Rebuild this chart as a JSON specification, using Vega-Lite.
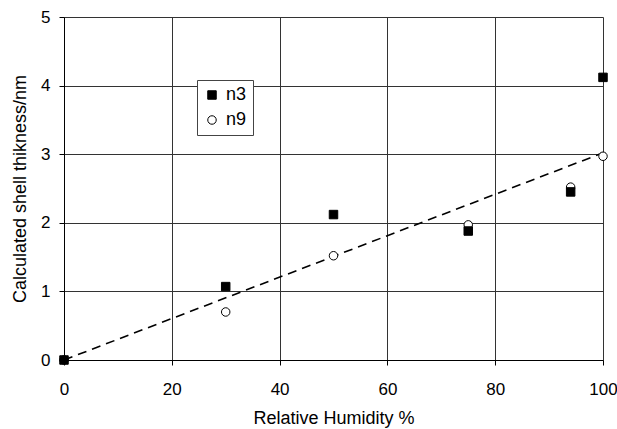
{
  "$schema": "https://vega.github.io/schema/vega-lite/v6.json",
  "width": 539,
  "height": 343,
  "autosize": "none",
  "padding": {"left": 64, "top": 17, "right": 14, "bottom": 69},
  "background": "white",
  "config": {
    "view": {"stroke": null},
    "font": "Liberation Sans",
    "axis": {
      "labelFont": "Liberation Sans",
      "titleFont": "Liberation Sans",
      "labelFontSize": 17,
      "titleFontSize": 18,
      "titleFontWeight": "normal",
      "labelColor": "black",
      "titleColor": "black",
      "gridColor": "#333",
      "gridOpacity": 1,
      "gridWidth": 1,
      "domainColor": "black",
      "tickColor": "black",
      "tickSize": 5,
      "labelFlush": false,
      "labelOverlap": false
    },
    "legend": {
      "labelFont": "Liberation Sans",
      "labelFontSize": 18,
      "labelColor": "black"
    }
  },
  "datasets": {
    "pts": [
      {"rh": 0, "t": 0, "series": "n9"},
      {"rh": 30, "t": 0.7, "series": "n9"},
      {"rh": 50, "t": 1.52, "series": "n9"},
      {"rh": 75, "t": 1.97, "series": "n9"},
      {"rh": 94, "t": 2.52, "series": "n9"},
      {"rh": 100, "t": 2.97, "series": "n9"},
      {"rh": 0, "t": 0, "series": "n3"},
      {"rh": 30, "t": 1.07, "series": "n3"},
      {"rh": 50, "t": 2.12, "series": "n3"},
      {"rh": 75, "t": 1.88, "series": "n3"},
      {"rh": 94, "t": 2.45, "series": "n3"},
      {"rh": 100, "t": 4.12, "series": "n3"}
    ],
    "fit": [
      {"rh": 0, "t": 0},
      {"rh": 100, "t": 3.02}
    ]
  },
  "layer": [
    {
      "data": {"name": "fit"},
      "mark": {"type": "line", "color": "black", "strokeWidth": 1.6, "strokeDash": [9, 6]},
      "encoding": {
        "x": {
          "field": "rh", "type": "quantitative",
          "scale": {"domain": [0, 100], "nice": false},
          "axis": {"title": "Relative Humidity %", "values": [0, 20, 40, 60, 80, 100], "format": "d", "labelPadding": 16, "titlePadding": 12, "grid": true}
        },
        "y": {
          "field": "t", "type": "quantitative",
          "scale": {"domain": [0, 5], "nice": false},
          "axis": {"title": "Calculated shell thikness/nm", "values": [0, 1, 2, 3, 4, 5], "format": "d", "labelPadding": 9, "titlePadding": 11, "grid": true}
        }
      }
    },
    {
      "data": {"name": "pts"},
      "mark": {"type": "point", "filled": false, "strokeWidth": 1, "opacity": 1},
      "encoding": {
        "x": {"field": "rh", "type": "quantitative"},
        "y": {"field": "t", "type": "quantitative"},
        "shape": {
          "field": "series", "type": "nominal",
          "scale": {"domain": ["n3", "n9"], "range": ["square", "circle"]},
          "legend": {
            "title": null,
            "orient": "none",
            "legendX": 133,
            "legendY": 63,
            "symbolSize": 72,
            "symbolStrokeWidth": 1,
            "strokeColor": "#444",
            "fillColor": "white",
            "padding": 6,
            "rowPadding": 7,
            "labelOffset": 5
          }
        },
        "fill": {
          "field": "series", "type": "nominal",
          "scale": {"domain": ["n3", "n9"], "range": ["black", "white"]},
          "legend": {
            "title": null,
            "orient": "none",
            "legendX": 133,
            "legendY": 63,
            "symbolSize": 72,
            "symbolStrokeWidth": 1,
            "strokeColor": "#444",
            "fillColor": "white",
            "padding": 6,
            "rowPadding": 7,
            "labelOffset": 5
          }
        },
        "stroke": {
          "field": "series", "type": "nominal",
          "scale": {"domain": ["n3", "n9"], "range": ["black", "black"]},
          "legend": {
            "title": null,
            "orient": "none",
            "legendX": 133,
            "legendY": 63,
            "symbolSize": 72,
            "symbolStrokeWidth": 1,
            "strokeColor": "#444",
            "fillColor": "white",
            "padding": 6,
            "rowPadding": 7,
            "labelOffset": 5
          }
        },
        "size": {"value": 72},
        "order": {"field": "series", "sort": "descending"}
      }
    }
  ]
}
